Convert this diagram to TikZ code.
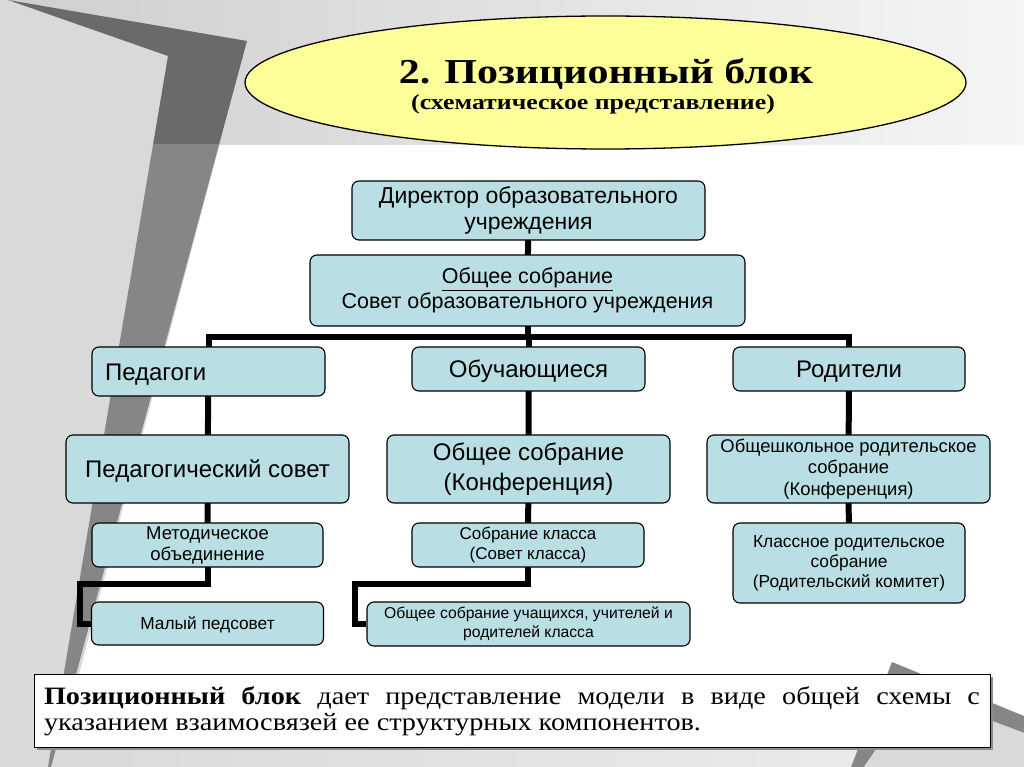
\documentclass[tikz,border=0pt]{standalone}
\usepackage{fontspec}
\usetikzlibrary{shapes.geometric}
\setmainfont{Liberation Serif}
\newfontfamily\arialf{Liberation Sans}
\newfontfamily\titlefont[FakeStretch=1.2]{Liberation Serif}
\newfontfamily\wideserif[FakeStretch=1.13]{Liberation Serif}
\definecolor{boxfill}{RGB}{185,222,228}
\definecolor{bandtop}{RGB}{106,106,106}
\definecolor{bandlow}{RGB}{134,134,134}
\definecolor{lgray}{RGB}{217,217,217}
\definecolor{ellfill}{RGB}{255,255,153}
\pgfdeclarelayer{bg}
\pgfdeclarelayer{lines}
\pgfsetlayers{bg,lines,main}
\begin{document}
\begin{tikzpicture}[x=1pt,y=-1pt,
  box/.style={draw=black, line width=1.1pt, rounded corners=7pt, fill=boxfill, inner sep=0pt, align=center},
  fs/.style n args={2}{font=\arialf\fontsize{#1}{#2}\selectfont},
  oneline/.style={text height=#1, text depth=0pt},
  conn/.style={line width=6pt, black, line join=miter},
]
\useasboundingbox (0,0) rectangle (1024,767);
% ---------- background ----------
\begin{pgfonlayer}{bg}
  \fill[lgray] (0,0) rectangle (1024,767);
  \shade[left color=lgray!95!black, right color=white!96!black] (0,0) rectangle (1024,145);
  \fill[white] (219.5,145) -- (1024,145) -- (1024,746) -- (60,746) -- cycle;
  \shade[left color=lgray, right color=white!93!black] (60,746) rectangle (1024,767);
  \fill[lgray] (0,0) -- (8,0) -- (168,56) -- (49,767) -- (0,767) -- cycle;
  \begin{scope}
    \clip (0,0) rectangle (1024,145);
    \fill[bandtop] (8,0) -- (247,41) -- (51,767) -- (48,767) -- (168,56) -- cycle;
  \end{scope}
  \begin{scope}
    \clip (0,145) rectangle (1024,767);
    \fill[bandlow] (8,0) -- (247,41) -- (51,767) -- (48,767) -- (168,56) -- cycle;
  \end{scope}
  \fill[bandlow] (892,662) -- (1024,716) -- (1024,733) -- (915,692) -- (864,767) -- (851,767) -- cycle;
  \fill[lgray] (915,692) -- (1024,733) -- (1024,767) -- (864,767) -- cycle;
\end{pgfonlayer}
% ---------- title ----------
\node[ellipse, draw=black, line width=1.3pt, fill=ellfill, minimum width=721pt, minimum height=133pt, inner sep=0pt] (title) at (605.5,82.5) {};
\node[anchor=base, inner sep=0pt, font=\titlefont\bfseries\fontsize{35}{37}\selectfont] (t1) at (606,84) {2. Позиционный блок};
\node[anchor=base, inner sep=0pt, font=\titlefont\bfseries\fontsize{21.5}{24}\selectfont] (t2) at (593,110) {(схематическое представление)};
% ---------- boxes ----------
\node[box, fs={23}{26.5}, minimum width=353pt, minimum height=59pt] (dir) at (528.5,210.5) {Директор образовательного\\учреждения};
\node[box, fs={21.5}{24.5}, minimum width=435pt, minimum height=71pt] (sov) at (527.5,290.5) {\underline{Общее собрание}\\Совет образовательного учреждения};
\node[box, fs={24}{26}, oneline=17.2pt, minimum height=49pt, text width=207pt, inner xsep=13pt, align=left] (ped) at (208.5,371.5) {Педагоги};
\node[box, fs={24}{26}, oneline=17.2pt, minimum width=233pt, minimum height=44pt] (obu) at (528.5,369) {Обучающиеся};
\node[box, fs={24}{26}, oneline=17.2pt, minimum width=232pt, minimum height=44pt] (rod) at (849,369) {Родители};
\node[box, fs={24}{28}, oneline=17.2pt, minimum width=283pt, minimum height=68pt] (pedsov) at (207.5,469) {Педагогический совет};
\node[box, fs={24}{29.5}, minimum width=283pt, minimum height=68pt] (konf) at (528.5,469) {Общее собрание\\(Конференция)};
\node[box, fs={18.4}{21.5}, minimum width=283pt, minimum height=68pt] (obsh) at (848.5,469) {Общешкольное родительское\\собрание\\(Конференция)};
\node[box, fs={18.5}{21}, minimum width=231pt, minimum height=44pt] (met) at (207.5,545) {Методическое\\объединение};
\node[box, fs={17}{20}, minimum width=232pt, minimum height=44pt] (skl) at (528,545) {Собрание класса\\(Совет класса)};
\node[box, fs={17.4}{20}, minimum width=232pt, minimum height=80pt] (kls) at (849,563) {Классное родительское\\собрание\\(Родительский комитет)};
\node[box, fs={17.3}{20}, oneline=12.4pt, minimum width=232pt, minimum height=43pt] (maly) at (207.5,623.5) {Малый педсовет};
\node[box, fs={15.7}{19}, minimum width=323pt, minimum height=44pt] (obuch) at (528.5,624) {Общее собрание учащихся, учителей и\\родителей класса};
% ---------- connectors ----------
\coordinate (busL) at (ped.center |- 0,337);
\coordinate (busR) at (rod.center |- 0,337);
\coordinate (e1) at (80,584);
\coordinate (e2) at (355,584);
\begin{pgfonlayer}{lines}
  \draw[conn] (dir.center) -- (sov.center);
  \draw[conn] (sov.center) -- (sov.center |- busL);
  \draw[conn] (ped.center) -- (busL) -- (busR) -- (rod.center);
  \draw[conn] (obu.center |- busL) -- (obu.center);
  \draw[conn] (ped.center) -- (pedsov.center) -- (met.center);
  \draw[conn] (obu.center) -- (konf.center) -- (skl.center);
  \draw[conn] (rod.center) -- (obsh.center) -- (kls.center);
  \draw[conn] (met.center) |- (e1) |- (maly.west);
  \draw[conn] (skl.center) |- (e2) |- (obuch.west);
\end{pgfonlayer}
% ---------- description ----------
\fill[black!45] (37,677) rectangle (993,750);
\node[draw=black, line width=1pt, fill=white, minimum width=956pt, minimum height=73pt, text width=936pt, inner xsep=10pt, inner ysep=0pt, align=justify, font=\wideserif\fontsize{25}{25.5}\selectfont] (desc) at (512,711) {{\bfseries Позиционный блок} дает представление модели в виде общей схемы с\linebreak указанием взаимосвязей ее структурных компонентов.};
\end{tikzpicture}
\end{document}
